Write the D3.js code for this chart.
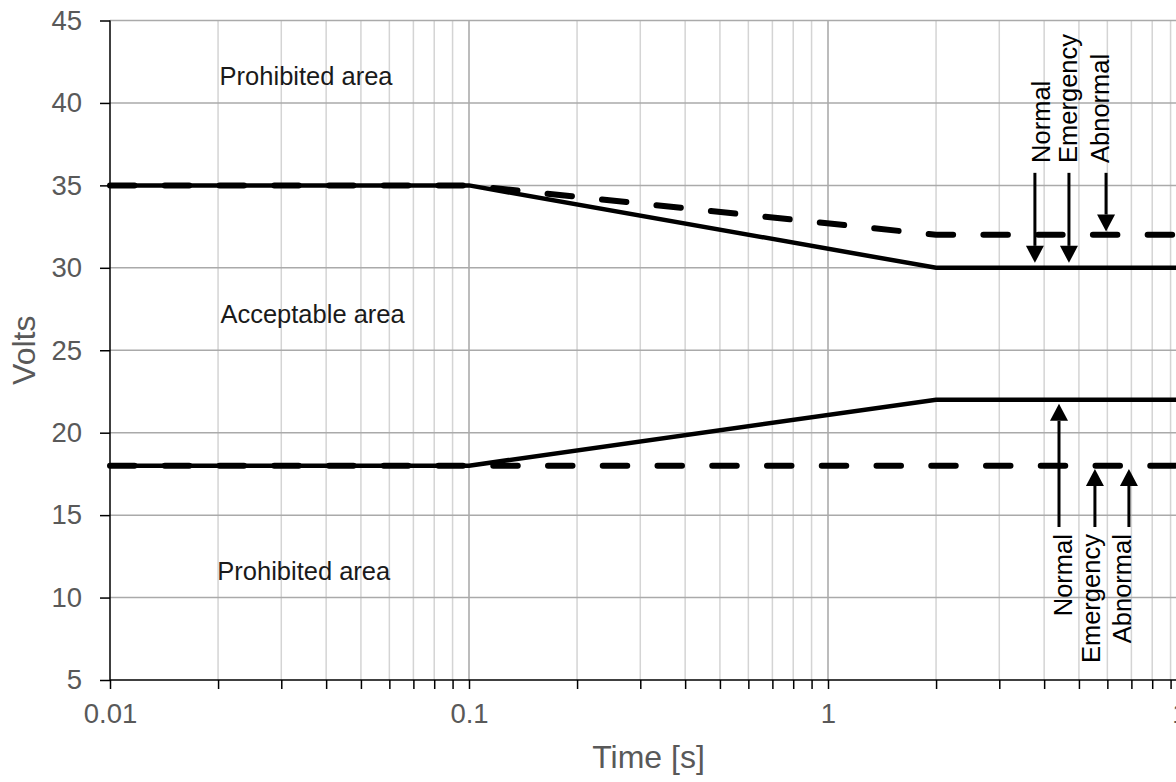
<!DOCTYPE html>
<html>
<head>
<meta charset="utf-8">
<script src="https://cdn.jsdelivr.net/npm/d3@7"></script>
<style>
  body { margin: 0; background: #fff; }
  svg { display: block; font-family: "Liberation Sans", Arial, sans-serif; }
  .tick text { fill: #595959; }
</style>
</head>
<body>
<div id="vis"></div>
<script>
/* Data */
var times = [0.01, 0.1, 2, 10];
var upperSolid = [35, 35, 30, 30];
var upperDashed = [35, 35, 32, 32];
var lowerSolid = [18, 18, 22, 22];
var lowerDashed = [18, 18, 18, 18];

var voltTicks = [5, 10, 15, 20, 25, 30, 35, 40, 45];
var decadeTicks = [0.01, 0.1, 1, 10];
var decadeLabels = ["0.01", "0.1", "1", "10"];

var regionLabels = ["Prohibited area", "Acceptable area", "Prohibited area"];
var regionTimes = [0.0202, 0.0203, 0.0199];
var regionVolts = [41.1, 26.65, 11.05];

var arrowLabels = ["Normal", "Emergency", "Abnormal"];
var upperArrowTimes = [3.77, 4.69, 5.95];
var upperArrowTo = [30.3, 30.3, 32.2];
var upperLabelTimes = [4.15, 4.94, 6.06];
var lowerArrowTimes = [4.40, 5.54, 6.89];
var lowerArrowTo = [21.75, 17.8, 17.8];
var lowerLabelTimes = [4.78, 5.72, 6.98];

/* Set up */
var W = 1176, H = 782;
var margin = { top: 20.5, left: 110, bottom: 680, right: 1187 };

var svg = d3.select('#vis').append('svg').attr('width', W).attr('height', H);

/* Scales */
var xScale = d3.scaleLog().domain([0.01, 10]).range([margin.left, margin.right]);
var yScale = d3.scaleLinear().domain([5, 45]).range([margin.bottom, margin.top]);

// all the 1..9 positions in each decade
var minorTicks = [];
decadeTicks.slice(0, 3).forEach(function (d) {
    for (var k = 1; k < 10; k++) minorTicks.push(d * k);
});
minorTicks.push(10);

/* Grid */
var grid = svg.append('g').attr('class', 'grid');
grid.selectAll('line.minor')
    .data(minorTicks.filter(function (d) { return decadeTicks.indexOf(d) < 0; }))
    .enter().append('line')
    .attr('x1', function (d) { return xScale(d); })
    .attr('x2', function (d) { return xScale(d); })
    .attr('y1', yScale(45)).attr('y2', yScale(5))
    .attr('stroke', '#d4d4d4').attr('stroke-width', 1.5);
grid.selectAll('line.major')
    .data(decadeTicks.slice(1))
    .enter().append('line')
    .attr('x1', function (d) { return xScale(d); })
    .attr('x2', function (d) { return xScale(d); })
    .attr('y1', yScale(45)).attr('y2', yScale(5))
    .attr('stroke', '#a6a6a6').attr('stroke-width', 1.5);
grid.selectAll('line.h')
    .data(voltTicks.slice(1))
    .enter().append('line')
    .attr('x1', margin.left).attr('x2', margin.right)
    .attr('y1', function (d) { return yScale(d); })
    .attr('y2', function (d) { return yScale(d); })
    .attr('stroke', '#aaaaaa').attr('stroke-width', 1.5);

/* Axes */
var yAxis = d3.axisLeft(yScale).tickValues(voltTicks).tickSize(10).tickPadding(18);
var xAxis = d3.axisBottom(xScale).tickValues(minorTicks).tickSize(9).tickPadding(14)
    .tickFormat(function (d) {
        var i = decadeTicks.indexOf(d);
        return i < 0 ? "" : decadeLabels[i];
    });

var yAxisDraw = svg.append('g').attr('class', 'y axis')
    .attr('transform', 'translate(' + margin.left + ',0)')
    .call(yAxis);
var xAxisDraw = svg.append('g').attr('class', 'x axis')
    .attr('transform', 'translate(0,' + margin.bottom + ')')
    .call(xAxis);

[yAxisDraw, xAxisDraw].forEach(function (a) {
    a.select('.domain').attr('stroke', '#000').attr('stroke-width', 1.5);
    a.selectAll('.tick line').attr('stroke', '#000').attr('stroke-width', 1.5);
    a.selectAll('.tick text').attr('font-size', 27.5).attr('font-family', '"Liberation Sans", Arial, sans-serif');
});
// plain domain lines, no outer ticks
yAxisDraw.select('.domain').attr('d', 'M0,' + yScale(45) + 'V' + yScale(5));
xAxisDraw.select('.domain').attr('d', 'M' + margin.left + ',0H' + margin.right);

/* Axis titles */
svg.append('text')
    .attr('transform', 'translate(35,' + ((yScale(5) + yScale(45)) / 2) + ') rotate(-90)')
    .attr('text-anchor', 'middle')
    .attr('font-size', 32).attr('fill', '#595959')
    .text('Volts');
svg.append('text')
    .attr('x', (margin.left + margin.right) / 2).attr('y', 768)
    .attr('text-anchor', 'middle')
    .attr('font-size', 32).attr('fill', '#595959')
    .text('Time [s]');

/* Limit lines */
var line = d3.line()
    .x(function (d, i) { return xScale(times[i]); })
    .y(function (d) { return yScale(d); });

var lines = svg.append('g').attr('class', 'limits').attr('fill', 'none').attr('stroke', '#000');
[upperSolid, lowerSolid].forEach(function (s) {
    lines.append('path').attr('d', line(s)).attr('stroke-width', 4.5);
});
[upperDashed, lowerDashed].forEach(function (s) {
    lines.append('path').attr('d', line(s))
        .attr('stroke-width', 6)
        .attr('stroke-linecap', 'round')
        .attr('stroke-dasharray', '24.5,30.25');
});

/* Region labels */
svg.append('g').selectAll('text')
    .data(regionLabels)
    .enter().append('text')
    .attr('x', function (d, i) { return xScale(regionTimes[i]); })
    .attr('y', function (d, i) { return yScale(regionVolts[i]); })
    .attr('font-size', 25.5).attr('fill', '#1a1a1a')
    .text(function (d) { return d; });

/* Arrows */
var headW = 9, headH = 17;
function drawArrows(xs, fromVolt, tos, labelXs, anchor, labelVolt) {
    var g = svg.append('g').attr('class', 'arrows');
    arrowLabels.forEach(function (lab, i) {
        var x = xScale(xs[i]);
        var y0 = yScale(fromVolt);
        var y1 = yScale(tos[i]);
        var dir = y1 > y0 ? 1 : -1;
        g.append('line')
            .attr('x1', x).attr('x2', x)
            .attr('y1', y0).attr('y2', y1 - dir * headH)
            .attr('stroke', '#000').attr('stroke-width', 3);
        g.append('path')
            .attr('d', 'M' + (x - headW) + ',' + (y1 - dir * headH) +
                'L' + (x + headW) + ',' + (y1 - dir * headH) +
                'L' + x + ',' + y1 + 'Z')
            .attr('fill', '#000');
        g.append('text')
            .attr('transform', 'translate(' + xScale(labelXs[i]) + ',' + yScale(labelVolt) + ') rotate(-90)')
            .attr('text-anchor', anchor)
            .attr('font-size', 25.5).attr('fill', '#000')
            .text(lab);
    });
}
drawArrows(upperArrowTimes, 35.76, upperArrowTo, upperLabelTimes, 'start', 36.36);
drawArrows(lowerArrowTimes, 14.28, lowerArrowTo, lowerLabelTimes, 'end', 13.85);
</script>
</body>
</html>
